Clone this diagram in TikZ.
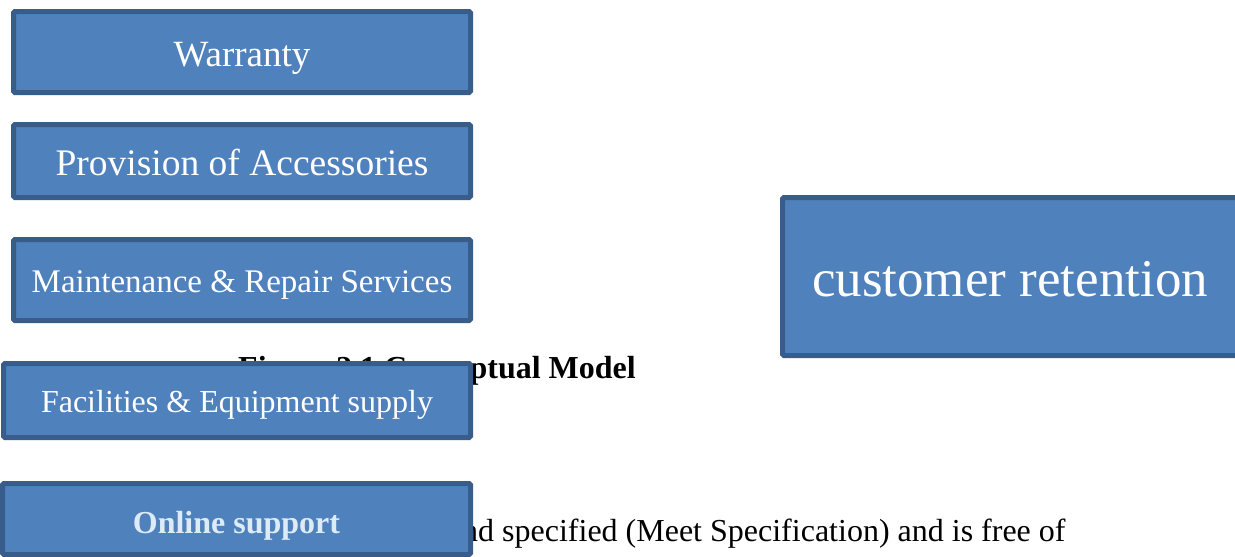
\documentclass[tikz,border=0pt]{standalone}
\usepackage{fontspec}
\setmainfont{Liberation Serif}
\definecolor{boxfill}{HTML}{4F81BD}
\definecolor{boxline}{HTML}{385D8A}
\definecolor{paletext}{HTML}{DDEBF7}
\begin{document}
\begin{tikzpicture}[x=1pt,y=-1pt,
    factorbox/.style={draw=boxline,fill=boxfill,line width=5pt,rounded corners=1.5pt,
      inner sep=0pt,text=white,align=center,text depth=0pt},
    bodytext/.style={inner sep=0pt,text=black}]
    \useasboundingbox (0,0) rectangle (1235,557);
    {
    % Page text behind the boxes
    \node (caption) [bodytext,anchor=base west] at (238,378)
      {\fontsize{32}{36}\selectfont\bfseries Figure 2.1 Conceptual Model};
    \node (bodyline) [bodytext,anchor=base west] at (462,541)
      {\fontsize{32}{36}\selectfont nd specified (Meet Specification) and is free of};

    % Drawing the factor boxes
    \node (warranty) [factorbox,minimum width=457,minimum height=81,text height=28] at (242,52)
      {\fontsize{37}{40}\selectfont Warranty};
    \node (accessories) [factorbox,minimum width=457,minimum height=73,text height=28] at (242,161)
      {\fontsize{37.5}{40}\selectfont Provision of Accessories};
    \node (maintenance) [factorbox,minimum width=457,minimum height=81,text height=24] at (242,280)
      {\fontsize{33}{36}\selectfont Maintenance \& Repair Services};
    \node (facilities) [factorbox,minimum width=467,minimum height=74,text height=23] at (237,400.5)
      {\fontsize{32}{36}\selectfont Facilities \& Equipment supply};
    \node (online) [factorbox,minimum width=468,minimum height=71,text height=28] at (236.5,519)
      {\fontsize{32}{36}\selectfont\bfseries\color{paletext}Online support};

    % Drawing the outcome box
    \node (retention) [factorbox,minimum width=455,minimum height=158,text height=40] at (1010,276.5)
      {\fontsize{53}{56}\selectfont customer retention};
    }
\end{tikzpicture}
\end{document}
